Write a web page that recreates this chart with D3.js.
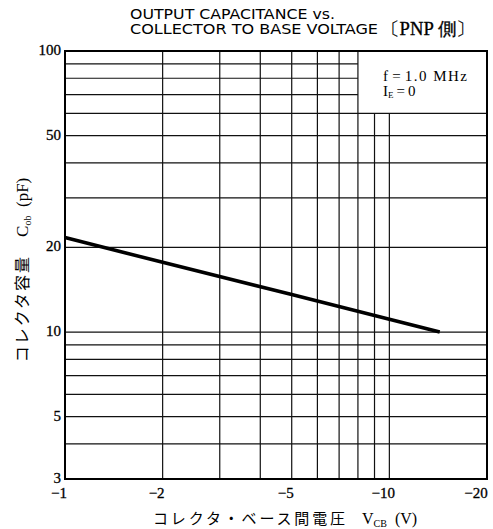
<!DOCTYPE html>
<html><head><meta charset="utf-8">
<script src="https://cdn.jsdelivr.net/npm/d3@7"></script>
<style>
body{margin:0;background:#fff;}
svg{display:block;}
</style></head>
<body><svg id="c" width="493" height="529"></svg>
<script>
// Data
const vcb = [1, 2, 5, 10, 14.3];          // |V_CB| (V)
const cob = [21.7, 17.7, 13.6, 11.1, 10]; // C_ob (pF)
const xTicks = [1, 2, 5, 10, 20];
const xTickLabels = ["\u22121", "\u22122", "\u22125", "\u221210", "\u221220"];
const yTicks = [3, 5, 10, 20, 50, 100];
const xGrid = [2, 3, 4, 5, 6, 7, 8, 9, 10];
const yGrid = [4, 5, 6, 7, 8, 9, 10, 20, 30, 40, 50, 60, 70, 80, 90];

const svg = d3.select("#c");
const x = d3.scaleLog().domain([1, 20]).range([65, 487]);
const y = d3.scaleLog().domain([3, 100]).range([479, 51]);
const serif = "'Liberation Serif','Times New Roman',serif";
const narrow = "'Liberation Sans Narrow','DejaVu Sans Condensed',sans-serif";
const cjk = "'Noto Sans CJK JP',sans-serif";

const legendX = x(8), legendY = y(60);

// grid
const g = svg.append("g").attr("stroke", "#111").attr("stroke-width", 1.2);
xGrid.forEach(v => {
  const top = (v > 8) ? legendY : y(100);
  g.append("line").attr("x1", x(v)).attr("x2", x(v)).attr("y1", top).attr("y2", y(3));
});
yGrid.forEach(v => {
  const right = (v > 60) ? legendX : x(20);
  g.append("line").attr("x1", x(1)).attr("x2", right).attr("y1", y(v)).attr("y2", y(v));
});
// frame
svg.append("rect").attr("x", x(1)).attr("y", y(100)).attr("width", x(20) - x(1)).attr("height", y(3) - y(100))
  .attr("fill", "none").attr("stroke", "#000").attr("stroke-width", 2);

// data line
const pts = vcb.map((v, i) => [v, cob[i]]);
svg.append("path").datum(pts)
  .attr("d", d3.line().x(d => x(d[0])).y(d => y(d[1])))
  .attr("fill", "none").attr("stroke", "#000").attr("stroke-width", 3.6);

// x tick labels
svg.append("g").selectAll("text").data(xTicks).join("text")
  .attr("x", (d, i) => x(d) - (i === xTicks.length - 1 ? 11 : 6)).attr("y", 498)
  .attr("text-anchor", "middle").attr("font-family", serif).attr("font-size", 15)
  .attr("stroke", "#000").attr("stroke-width", 0.3)
  .text((d, i) => xTickLabels[i]);
// y tick labels
svg.append("g").selectAll("text").data(yTicks).join("text")
  .attr("x", 61).attr("y", d => y(d) + 4)
  .attr("text-anchor", "end").attr("font-family", serif).attr("font-size", 15)
  .attr("stroke", "#000").attr("stroke-width", 0.3)
  .text(d => d);

// legend
const lg = svg.append("g").attr("font-family", serif).attr("font-size", 15);
lg.append("text").attr("x", 383).attr("y", 81)
  .attr("textLength", 84).attr("lengthAdjust", "spacing").text("f\u200a=\u200a1.0 MHz");
const t2 = lg.append("text").attr("x", 383).attr("y", 96);
t2.append("tspan").text("I");
t2.append("tspan").attr("font-size", 9).attr("dy", 2).text("E");
t2.append("tspan").attr("dy", -2).text("\u2009=\u20090");

// title
svg.append("text").attr("x", 130).attr("y", 19).attr("font-family", narrow).attr("font-size", 14)
  .attr("textLength", 205).attr("lengthAdjust", "spacingAndGlyphs").text("OUTPUT CAPACITANCE vs.");
svg.append("text").attr("x", 130).attr("y", 34).attr("font-family", narrow).attr("font-size", 14)
  .attr("textLength", 248).attr("lengthAdjust", "spacingAndGlyphs").text("COLLECTOR TO BASE VOLTAGE");
svg.append("text").attr("x", 381).attr("y", 35).attr("font-family", serif).attr("font-size", 18)
  .attr("stroke", "#000").attr("stroke-width", 0.3)
  .attr("textLength", 94).attr("lengthAdjust", "spacingAndGlyphs").text("\u3014PNP \u5074\u3015");

// x axis title
svg.append("text").attr("x", 153).attr("y", 524).attr("font-family", cjk).attr("font-size", 15)
  .attr("textLength", 192).attr("lengthAdjust", "spacing").text("コレクタ・ベース間電圧");
const xt = svg.append("text").attr("x", 362).attr("y", 524).attr("font-family", serif).attr("font-size", 16);
xt.append("tspan").text("V");
xt.append("tspan").attr("font-size", 10).attr("dy", 3).text("CB");
xt.append("tspan").attr("dy", -3).text("\u2002(V)");

// y axis title
const yt = svg.append("text").attr("transform", "translate(28,270) rotate(-90)")
  .attr("text-anchor", "middle");
yt.append("tspan").attr("font-family", cjk).attr("font-size", 16).attr("letter-spacing", 2).text("コレクタ容量\u2003");
yt.append("tspan").attr("font-family", serif).attr("font-size", 17).text("C");
yt.append("tspan").attr("font-family", serif).attr("font-size", 10).attr("dy", 3).text("ob");
yt.append("tspan").attr("font-family", serif).attr("font-size", 17).attr("dy", -3).text("\u2002(pF)");
</script></body></html>
